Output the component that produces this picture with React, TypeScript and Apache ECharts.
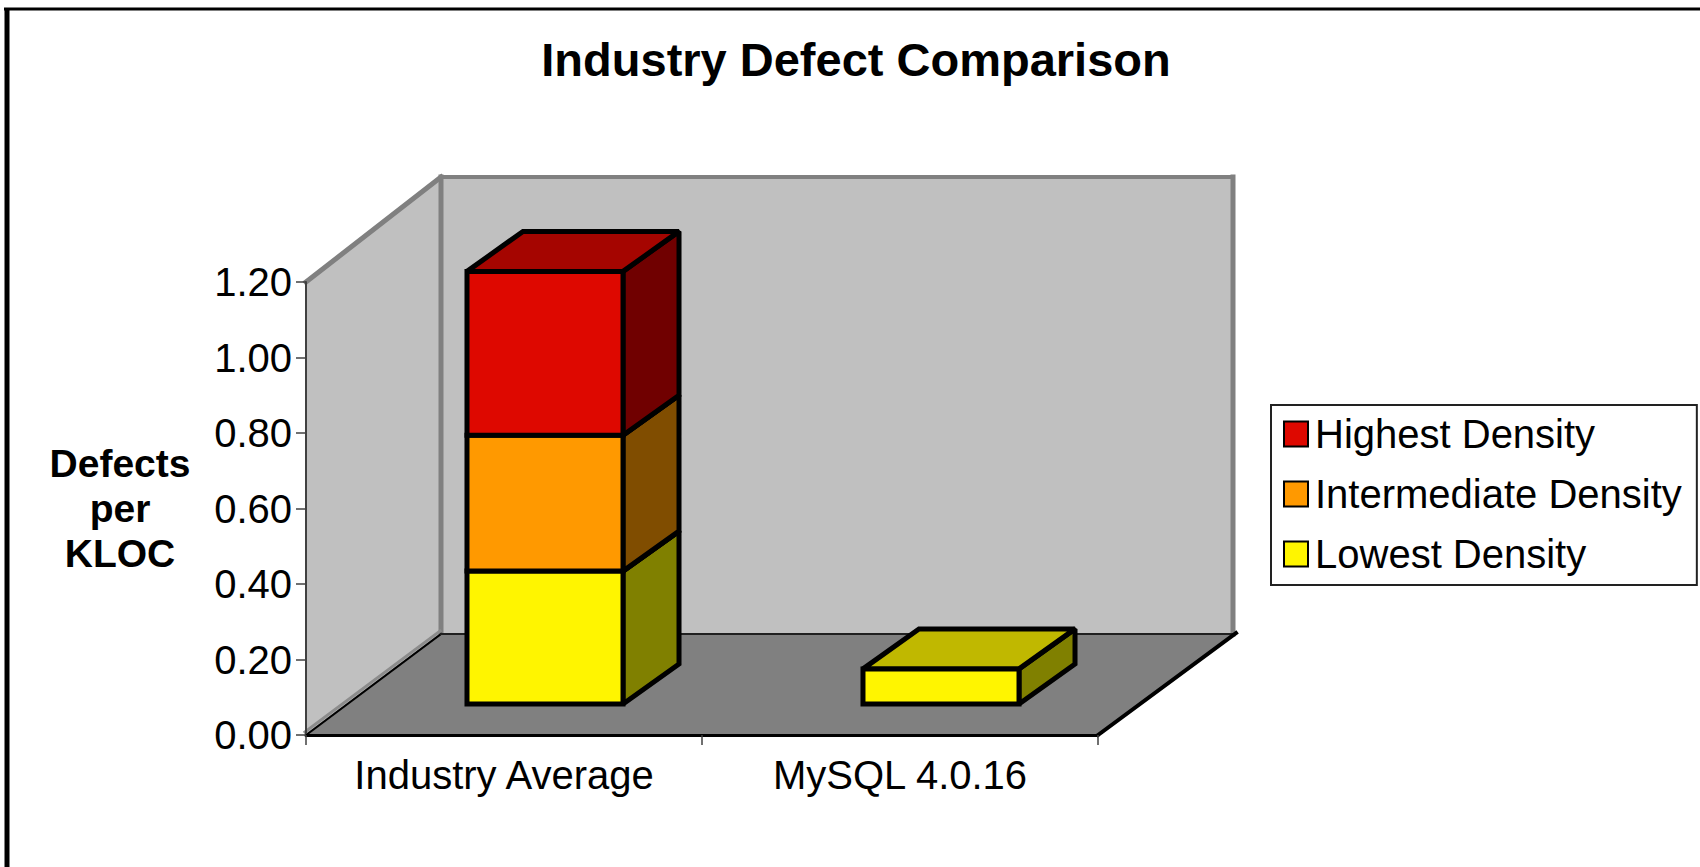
import React, { useEffect, useRef } from "react";
import * as echarts from "echarts";

const categories = ["Industry Average", "MySQL 4.0.16"];
const lowest = [0.352, 0.093];
const intermediate = [0.36, 0];
const highest = [0.434, 0];
const yTicks = { min: 0, max: 1.2, interval: 0.2 };

const FONT = "'Liberation Sans', Arial, sans-serif";
const WALL_DX = 135;
const WALL_DY = -101;
const WALL_EXTRA = -4;
const BAR_SHIFT_X = 41;
const BAR_SHIFT_Y = -31;
const BAR_W_RATIO = 0.394;
const BAR_DX = 56;
const BAR_DY = -40;

const renderRoom = (_: any, api: any) => {
  const [x0, y0] = api.coord([0, 0]);
  const band = api.size([1, 0])[0];
  const left = x0 - band / 2;
  const right = left + band * categories.length;
  const yTop = api.coord([0, yTicks.max])[1];
  const bx0 = left + WALL_DX;
  const bx1 = right + WALL_DX;
  const by = y0 + WALL_DY;
  const byTop = yTop + WALL_DY + WALL_EXTRA;
  const poly = (points: number[][], fill: string) => ({ type: "polygon", shape: { points }, style: { fill, stroke: "none" } });
  const line = (a: number[], b: number[], stroke: string, lineWidth: number) => ({
    type: "line",
    shape: { x1: a[0], y1: a[1], x2: b[0], y2: b[1] },
    style: { stroke, lineWidth, lineCap: "square" },
  });
  return {
    type: "group",
    children: [
      poly([[left, y0], [bx0, by], [bx0, byTop], [left, yTop]], "#C0C0C0"),
      poly([[bx0, by], [bx1, by], [bx1, byTop], [bx0, byTop]], "#C0C0C0"),
      poly([[left, y0], [right, y0], [bx1, by], [bx0, by]], "#808080"),
      line([left, yTop], [bx0, byTop], "#808080", 5),
      line([bx0, byTop], [bx1, byTop], "#808080", 4),
      line([bx0, byTop], [bx0, by], "#808080", 5),
      line([bx1, byTop], [bx1, by], "#808080", 5),
      line([left - 1, y0 - 3], [bx0 - 1, by - 3], "#8C8C8C", 3),
      line([left, y0], [bx0, by], "#000000", 2),
      line([bx0, by], [bx1, by], "#202020", 2),
      line([right, y0], [bx1 + 3, by - 1], "#000000", 4),
    ],
  };
};

const makeRender = (front: string, side: string, top: string) => (_: any, api: any) => {
  const cat = api.value(0);
  const base = api.value(1);
  const end = api.value(2);
  if (end <= base) return null;
  const w = api.size([1, 0])[0] * BAR_W_RATIO;
  const pb = api.coord([cat, base]);
  const pt = api.coord([cat, end]);
  const x0 = pb[0] + BAR_SHIFT_X - w / 2;
  const x1 = x0 + w;
  const y0 = pb[1] + BAR_SHIFT_Y;
  const y1 = pt[1] + BAR_SHIFT_Y;
  const face = (points: number[][], fill: string) => ({
    type: "polygon",
    shape: { points },
    style: { fill, stroke: "#000000", lineWidth: 5, lineJoin: "miter", miterLimit: 2 },
  });
  return {
    type: "group",
    children: [
      face([[x1, y0], [x1 + BAR_DX, y0 + BAR_DY], [x1 + BAR_DX, y1 + BAR_DY], [x1, y1]], side),
      face([[x0, y1], [x1, y1], [x1 + BAR_DX, y1 + BAR_DY], [x0 + BAR_DX, y1 + BAR_DY]], top),
      face([[x0, y0], [x1, y0], [x1, y1], [x0, y1]], front),
    ],
  };
};

export default function App() {
  const ref = useRef<HTMLDivElement>(null);
  useEffect(() => {
    document.body.style.margin = "0";
    document.body.style.background = "#ffffff";
    const chart = echarts.init(ref.current!, undefined, { renderer: "svg" });
    const rows = (vals: number[], bases: number[]) => vals.map((v, i) => [i, bases[i], bases[i] + v]);
    const baseLow = categories.map(() => 0);
    const baseMid = lowest.slice();
    const baseHigh = lowest.map((v, i) => v + intermediate[i]);
    const dims = { encode: { x: 0, y: 2 } };
    chart.setOption({
      animation: false,
      backgroundColor: "#ffffff",
      tooltip: { show: false },
      title: {
        text: "Industry Defect Comparison",
        left: 851,
        top: 31,
        textAlign: "center",
        textStyle: { fontFamily: FONT, fontWeight: "bold", fontSize: 47, color: "#000000" },
      },
      legend: {
        orient: "vertical",
        left: 1271,
        top: 405,
        width: 426,
        padding: [9, 15, 11, 12],
        backgroundColor: "#ffffff",
        borderColor: "#222222",
        borderWidth: 2,
        borderRadius: 0,
        selectedMode: false,
        itemWidth: 24,
        itemHeight: 25,
        itemGap: 20,
        data: [
          { name: "Highest Density", icon: "rect" },
          { name: "Intermediate Density", icon: "rect" },
          { name: "Lowest Density", icon: "rect" },
        ],
        textStyle: { fontFamily: FONT, fontSize: 40, color: "#000000", padding: [0, 0, 0, 2] },
      },
      grid: { left: 306, top: 282, width: 792, height: 453 },
      xAxis: {
        type: "category",
        data: categories,
        z: 6,
        axisLine: { lineStyle: { color: "#000000", width: 3 } },
        axisTick: { show: true, length: 10, alignWithLabel: false, lineStyle: { color: "#404040", width: 1.5 } },
        axisLabel: { fontFamily: FONT, fontSize: 40, color: "#000000", margin: 20 },
      },
      yAxis: {
        type: "value",
        min: yTicks.min,
        max: yTicks.max,
        interval: yTicks.interval,
        z: 6,
        name: "Defects\nper\nKLOC",
        nameLocation: "middle",
        nameRotate: 0,
        nameGap: 186,
        nameTextStyle: { fontFamily: FONT, fontWeight: "bold", fontSize: 39, lineHeight: 45, color: "#000000", align: "center", padding: [0, 0, 7, 0] },
        axisLine: { show: true, lineStyle: { color: "#404040", width: 2 } },
        axisTick: { show: true, length: 10, lineStyle: { color: "#404040", width: 1.5 } },
        splitLine: { show: false },
        axisLabel: { fontFamily: FONT, fontSize: 40, color: "#000000", margin: 14, formatter: (v: number) => v.toFixed(2) },
      },
      series: [
        { type: "custom", name: "room", silent: true, clip: false, data: [[0, 0, 0]], renderItem: renderRoom, ...dims },
        {
          type: "custom", name: "Lowest Density", clip: false, silent: true,
          itemStyle: { color: "#FFF500", borderColor: "#000000", borderWidth: 4 },
          data: rows(lowest, baseLow), renderItem: makeRender("#FFF500", "#808000", "#C0B800"), ...dims,
        },
        {
          type: "custom", name: "Intermediate Density", clip: false, silent: true,
          itemStyle: { color: "#FF9900", borderColor: "#000000", borderWidth: 4 },
          data: rows(intermediate, baseMid), renderItem: makeRender("#FF9900", "#804D00", "#C07300"), ...dims,
        },
        {
          type: "custom", name: "Highest Density", clip: false, silent: true,
          itemStyle: { color: "#DE0800", borderColor: "#000000", borderWidth: 4 },
          data: rows(highest, baseHigh), renderItem: makeRender("#DE0800", "#700000", "#A50500"), ...dims,
        },
      ],
      graphic: [
        { type: "line", z: 100, shape: { x1: 7, y1: 9, x2: 7, y2: 867 }, style: { stroke: "#000000", lineWidth: 5 } },
        { type: "line", z: 100, shape: { x1: 4, y1: 9, x2: 1700, y2: 9 }, style: { stroke: "#000000", lineWidth: 3 } },
      ],
    });
    return () => chart.dispose();
  }, []);
  return <div ref={ref} style={{ position: "fixed", left: 0, top: 0, width: 1700, height: 867 }} />;
}
